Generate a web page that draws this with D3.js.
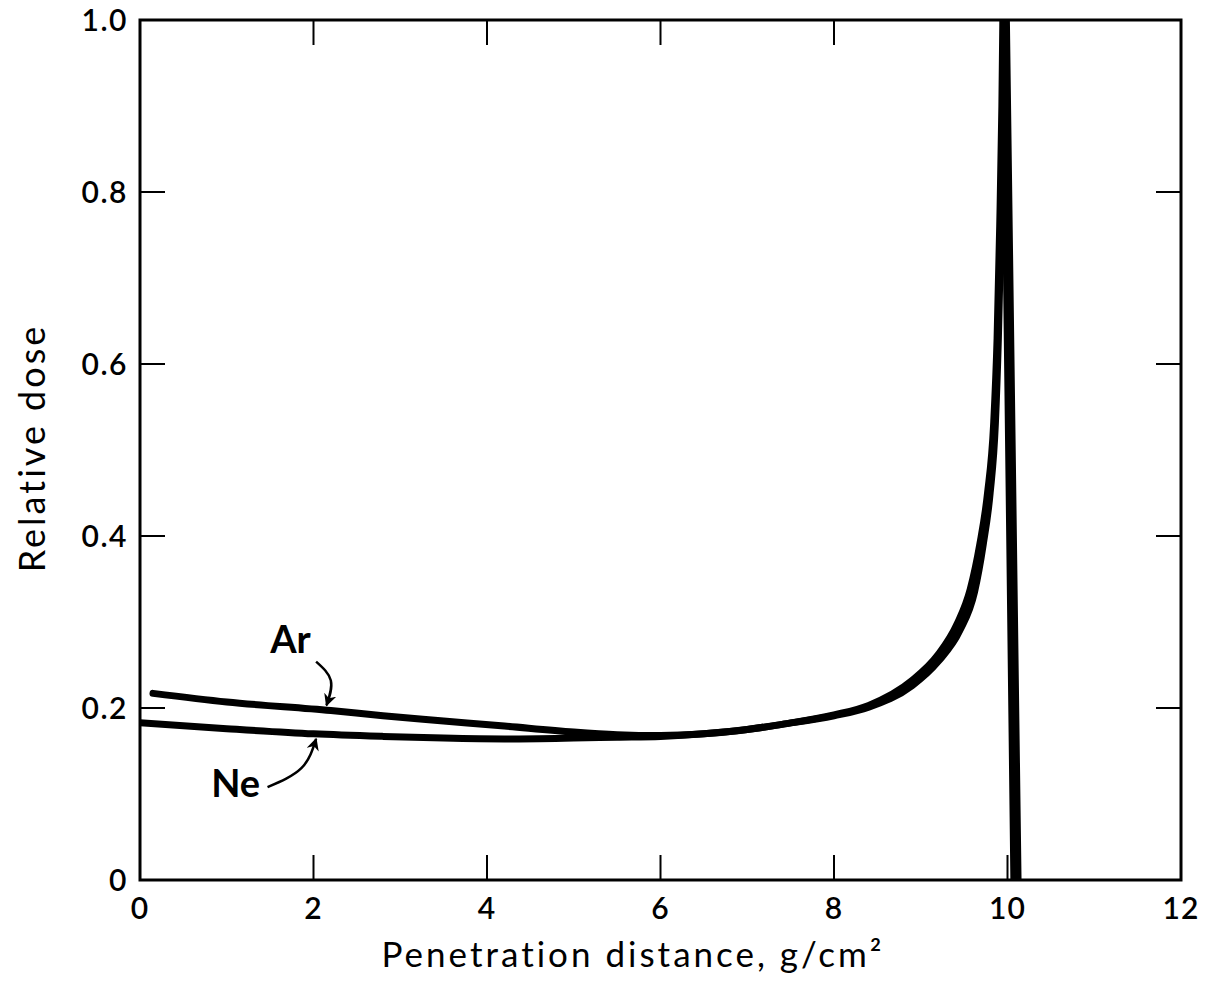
<!DOCTYPE html>
<html>
<head>
<meta charset="utf-8">
<script src="https://cdn.jsdelivr.net/npm/d3@7"></script>
<style>
  body { margin: 0; background: #fff; }
  svg text { font-family: Lato, 'Open Sans', sans-serif; fill: #000; }
</style>
</head>
<body>
<div id="chart"></div>
<script>
// dose vs depth, [g/cm2, relative dose]
const arPoints = [[0.15, 0.217], [1, 0.207], [2.2, 0.197], [2.8, 0.191], [3.5, 0.185], [4.2, 0.179],
  [5.0, 0.172], [5.5, 0.169], [6.0, 0.168], [6.5, 0.17], [7.0, 0.175], [7.4, 0.181], [8.0, 0.192],
  [8.4, 0.203], [8.9, 0.232], [9.2, 0.262], [9.42, 0.298], [9.57, 0.338], [9.68, 0.39], [9.77, 0.45],
  [9.84, 0.53], [9.88, 0.63], [9.91, 0.76], [9.935, 0.9], [9.955, 1.08], [10.085, 0]]
const nePoints = [[0, 0.183], [1, 0.176], [2, 0.17], [2.8, 0.167], [3.5, 0.165], [4.2, 0.164],
  [5.0, 0.165], [5.5, 0.166], [6.0, 0.167], [6.5, 0.17], [7.0, 0.175], [7.4, 0.181], [8.0, 0.191],
  [8.4, 0.201], [8.9, 0.226], [9.2, 0.254], [9.45, 0.29], [9.62, 0.335], [9.72, 0.39], [9.8, 0.45],
  [9.86, 0.53], [9.895, 0.63], [9.925, 0.76], [9.95, 0.9], [9.965, 1.08], [10.11, 0]]

const xTicks = [0, 2, 4, 6, 8, 10, 12]
const yTicks = [0, 0.2, 0.4, 0.6, 0.8, 1.0]

const labels = [
  { text: 'Ar', x: 1.5, y: 0.264 },
  { text: 'Ne', x: 0.82, y: 0.0965 }
]
// curved pointers: start, bend, tip
const pointers = [
  [[2.03, 0.254], [2.2, 0.232], [2.15, 0.203]],
  [[1.47, 0.108], [1.86, 0.13], [2.03, 0.164]]
]

const W = 1207, H = 988
const m = { left: 140, right: 26, top: 20, bottom: 108 }

const svg = d3.select('#chart').append('svg')
  .attr('width', W).attr('height', H)

const x = d3.scaleLinear().domain([0, 12]).range([m.left, W - m.right])
const y = d3.scaleLinear().domain([0, 1]).range([H - m.bottom, m.top])

svg.append('defs').append('clipPath').attr('id', 'clip')
  .append('rect')
  .attr('x', x(0)).attr('y', y(1))
  .attr('width', x(12) - x(0)).attr('height', y(0) - y(1))

svg.append('defs').append('marker')
  .attr('id', 'head')
  .attr('viewBox', '0 0 10 10')
  .attr('refX', 9).attr('refY', 5)
  .attr('markerWidth', 5).attr('markerHeight', 5)
  .attr('markerUnits', 'strokeWidth')
  .attr('orient', 'auto')
  .append('path')
  .attr('d', 'M0,0 L10,5 L0,10 L3,5 Z')
  .attr('fill', '#000')

// ticks, pointing inward on all four sides
const tickLen = 25
const g = svg.append('g').attr('stroke', '#000').attr('stroke-width', 2)
yTicks.slice(1, -1).forEach(v => {
  g.append('line').attr('x1', x(0)).attr('x2', x(0) + tickLen).attr('y1', y(v)).attr('y2', y(v))
  g.append('line').attr('x1', x(12)).attr('x2', x(12) - tickLen).attr('y1', y(v)).attr('y2', y(v))
})
xTicks.slice(1, -1).forEach(v => {
  g.append('line').attr('x1', x(v)).attr('x2', x(v)).attr('y1', y(0)).attr('y2', y(0) - tickLen)
  g.append('line').attr('x1', x(v)).attr('x2', x(v)).attr('y1', y(1)).attr('y2', y(1) + tickLen)
})

svg.append('rect')
  .attr('x', x(0)).attr('y', y(1))
  .attr('width', x(12) - x(0)).attr('height', y(0) - y(1))
  .attr('fill', 'none').attr('stroke', '#000').attr('stroke-width', 3)

// tick labels
svg.append('g').selectAll('text').data(yTicks).join('text')
  .attr('x', x(0) - 12).attr('y', d => y(d)).attr('dy', '0.36em')
  .attr('text-anchor', 'end').attr('font-size', 30).attr('font-weight', 600).attr('letter-spacing', 1.5)
  .text(d => d === 0 ? '0' : d.toFixed(1))

svg.append('g').selectAll('text').data(xTicks).join('text')
  .attr('x', d => x(d)).attr('y', y(0) + 39)
  .attr('text-anchor', 'middle').attr('font-size', 30).attr('font-weight', 600).attr('letter-spacing', 1)
  .text(d => d)

// axis titles
svg.append('text')
  .attr('x', 633).attr('y', 967)
  .attr('text-anchor', 'middle').attr('font-size', 35).attr('letter-spacing', 3)
  .text('Penetration distance, g/cm²')

svg.append('text')
  .attr('transform', 'translate(45,448) rotate(-90)')
  .attr('text-anchor', 'middle').attr('font-size', 36).attr('letter-spacing', 3)
  .text('Relative dose')

// curves: smooth rise, straight falloff past the peak
const rise = d3.line().x(d => x(d[0])).y(d => y(d[1])).curve(d3.curveMonotoneX)
const fall = d3.line().x(d => x(d[0])).y(d => y(d[1]))

const plot = svg.append('g').attr('clip-path', 'url(#clip)')
  .attr('fill', 'none').attr('stroke', '#000').attr('stroke-linecap', 'round')

;[arPoints, nePoints].forEach(pts => {
  plot.append('path').attr('d', rise(pts.slice(0, -1))).attr('stroke-width', 7)
  plot.append('path').attr('d', fall(pts.slice(-2))).attr('stroke-width', 9)
})

// labels and pointers
svg.append('g').selectAll('text').data(labels).join('text')
  .attr('x', d => x(d.x)).attr('y', d => y(d.y))
  .attr('font-size', 38).attr('font-weight', 'bold')
  .text(d => d.text)

const bend = d3.line().x(d => x(d[0])).y(d => y(d[1])).curve(d3.curveNatural)
svg.append('g').selectAll('path').data(pointers).join('path')
  .attr('d', d => bend(d))
  .attr('fill', 'none').attr('stroke', '#000').attr('stroke-width', 2.5)
  .attr('marker-end', 'url(#head)')
</script>
</body>
</html>
